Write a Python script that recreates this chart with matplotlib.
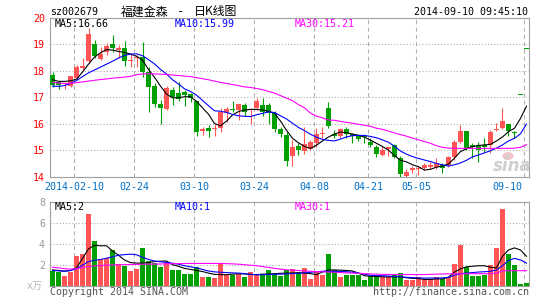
import matplotlib
matplotlib.use('Agg')
import matplotlib.pyplot as plt
from matplotlib.patches import Ellipse

plt.rcParams['font.family'] = ['DejaVu Sans Mono', 'Noto Sans CJK SC']

# daily candles, 2014-01-28 .. 2014-09-10 (80 trading days)
opens = [17.84, 17.59, 17.50, 17.43, 17.72, 18.10, 18.35, 19.01, 18.43, 18.69,
         19.01, 18.79, 18.85, 18.36, 18.48, 18.51, 17.97, 17.43, 16.75, 16.55,
         17.27, 17.17, 17.21, 17.12, 16.87, 15.73, 15.85, 15.79, 15.83, 16.39,
         16.56, 16.52, 16.71, 16.52, 16.58, 16.71, 16.71, 16.39, 15.80, 15.57,
         14.78, 15.16, 14.97, 15.06, 15.28, 15.62, 16.58, 15.61, 15.54, 15.79,
         15.61, 15.54, 15.54, 15.32, 15.13, 14.82, 15.03, 15.20, 14.72, 14.04,
         14.25, 14.29, 14.31, 14.35, 14.38, 14.44, 14.44, 14.73, 15.32, 15.74,
         15.20, 15.20, 15.20, 15.20, 15.76, 15.83, 15.98, 15.70, 17.09, 18.81]
closes = [17.46, 17.46, 17.53, 17.80, 18.16, 18.17, 19.39, 18.57, 18.63, 18.94,
          18.85, 18.85, 18.38, 18.40, 18.53, 17.97, 17.40, 16.75, 16.58, 17.34,
          17.02, 16.92, 17.09, 16.96, 15.70, 15.81, 15.74, 15.81, 16.46, 16.54,
          16.52, 16.75, 16.46, 16.55, 16.87, 16.46, 16.39, 15.80, 15.61, 14.60,
          15.13, 15.01, 15.23, 15.31, 15.61, 15.64, 15.91, 15.54, 15.79, 15.61,
          15.54, 15.42, 15.49, 15.20, 14.84, 15.01, 15.11, 14.76, 14.10, 14.19,
          14.31, 14.31, 14.44, 14.44, 14.50, 14.34, 14.76, 15.32, 15.74, 15.05,
          15.13, 15.00, 15.13, 15.70, 15.81, 16.12, 15.74, 15.66, 17.09, 18.81]
highs = [17.95, 17.62, 17.57, 17.82, 18.22, 18.47, 19.62, 19.16, 18.90, 19.04,
         19.35, 18.98, 19.13, 18.66, 18.60, 19.10, 18.16, 17.53, 16.90, 17.43,
         17.37, 17.59, 17.27, 17.17, 16.87, 15.89, 15.95, 15.98, 16.59, 16.62,
         16.87, 16.75, 16.80, 16.58, 16.96, 16.99, 16.80, 16.49, 15.89, 15.70,
         15.38, 15.26, 15.86, 15.38, 15.85, 15.89, 16.83, 15.76, 15.83, 15.89,
         15.64, 15.61, 15.54, 15.45, 15.20, 15.16, 15.13, 15.24, 14.78, 14.28,
         14.40, 14.40, 14.50, 14.56, 14.69, 14.50, 14.78, 15.38, 15.95, 15.74,
         15.26, 15.32, 15.45, 15.76, 16.04, 16.58, 15.98, 15.72, 17.09, 18.81]
lows = [17.40, 17.31, 17.31, 17.38, 17.68, 18.02, 18.30, 18.47, 18.40, 18.60,
        18.72, 18.47, 18.18, 18.13, 18.13, 17.78, 16.46, 16.62, 15.99, 16.52,
        16.71, 16.87, 16.68, 16.83, 15.54, 15.57, 15.50, 15.54, 15.70, 16.07,
        16.46, 16.14, 16.29, 15.99, 16.52, 16.29, 15.98, 15.70, 15.51, 14.40,
        14.40, 14.82, 14.85, 15.01, 15.13, 15.45, 15.83, 15.45, 15.45, 15.45,
        15.26, 15.36, 15.29, 15.13, 14.76, 14.78, 14.78, 14.70, 14.00, 14.00,
        14.13, 14.07, 14.25, 14.28, 14.28, 14.15, 14.38, 14.63, 15.26, 15.01,
        14.70, 14.57, 14.95, 14.88, 15.72, 15.79, 15.54, 15.45, 17.09, 18.81]

ma5 = [17.66, 17.60, 17.60, 17.62, 17.68, 17.95, 18.25, 18.52, 18.68, 18.80,
       18.78, 18.73, 18.69, 18.63, 18.55, 18.40, 18.05, 17.75, 17.42, 17.12,
       16.98, 16.98, 17.02, 17.02, 16.85, 16.60, 16.36, 16.01, 15.92, 16.10,
       16.33, 16.46, 16.52, 16.54, 16.54, 16.52, 16.47, 16.40, 16.10, 15.75,
       15.45, 15.28, 15.14, 15.07, 15.19, 15.35, 15.50, 15.61, 15.69, 15.66,
       15.61, 15.56, 15.49, 15.38, 15.26, 15.14, 15.00, 14.80, 14.62, 14.56,
       14.45, 14.38, 14.25, 14.28, 14.36, 14.40, 14.48, 14.70, 14.95, 15.05,
       15.14, 15.18, 15.20, 15.22, 15.35, 15.50, 15.70, 15.83, 16.20, 16.66]
ma10 = [17.42, 17.41, 17.44, 17.52, 17.63, 17.78, 17.92, 18.03, 18.14, 18.25,
        18.36, 18.48, 18.58, 18.63, 18.64, 18.57, 18.42, 18.26, 18.05, 17.88,
        17.66, 17.50, 17.32, 17.22, 17.08, 16.88, 16.68, 16.49, 16.47, 16.43,
        16.35, 16.30, 16.28, 16.27, 16.34, 16.39, 16.45, 16.42, 16.30, 16.18,
        16.02, 15.86, 15.74, 15.60, 15.49, 15.41, 15.37, 15.35, 15.42, 15.50,
        15.55, 15.56, 15.56, 15.52, 15.47, 15.39, 15.30, 15.15, 14.97, 14.85,
        14.76, 14.69, 14.63, 14.57, 14.50, 14.45, 14.40, 14.45, 14.52, 14.62,
        14.75, 14.82, 14.90, 14.98, 15.08, 15.20, 15.35, 15.45, 15.62, 15.99]
ma30 = [17.56, 17.54, 17.52, 17.52, 17.55, 17.58, 17.61, 17.64, 17.67, 17.69,
        17.72, 17.74, 17.76, 17.79, 17.85, 17.88, 17.89, 17.88, 17.87, 17.86,
        17.84, 17.82, 17.80, 17.78, 17.74, 17.70, 17.66, 17.61, 17.56, 17.52,
        17.48, 17.44, 17.39, 17.37, 17.33, 17.29, 17.22, 17.16, 17.06, 16.97,
        16.87, 16.72, 16.60, 16.40, 16.29, 16.22, 16.14, 16.13, 16.09, 16.05,
        16.02, 15.98, 15.94, 15.90, 15.83, 15.79, 15.72, 15.65, 15.59, 15.53,
        15.46, 15.39, 15.33, 15.26, 15.17, 15.11, 15.08, 15.07, 15.07, 15.07,
        15.07, 15.07, 15.07, 15.07, 15.07, 15.07, 15.07, 15.08, 15.11, 15.21]

# volume, x 10k
volume = [1.37, 1.27, 0.89, 1.30, 2.79, 3.05, 6.86, 4.22, 2.54, 2.63,
          3.43, 2.10, 1.90, 1.37, 1.62, 3.62, 2.32, 2.16, 1.75, 2.22,
          1.46, 1.46, 1.14, 1.14, 1.78, 0.79, 0.79, 0.70, 2.10, 0.98,
          1.05, 1.14, 0.79, 1.27, 1.05, 0.98, 1.52, 1.14, 0.95, 1.46,
          1.62, 1.27, 1.71, 0.67, 1.43, 1.05, 3.05, 1.52, 0.86, 1.02,
          1.05, 1.05, 0.57, 0.89, 0.89, 0.79, 0.79, 1.05, 1.21, 0.51,
          0.51, 0.79, 0.63, 0.63, 0.83, 0.63, 0.83, 2.03, 3.90, 1.78,
          0.95, 0.89, 1.05, 2.00, 3.59, 7.33, 3.05, 2.00, 0.19, 0.25]
vol_ma5 = [1.50, 1.45, 1.38, 1.45, 1.70, 2.60, 3.50, 3.85, 3.80, 3.80,
           3.30, 2.90, 2.45, 2.20, 2.15, 2.15, 2.20, 2.30, 2.33, 2.35,
           2.00, 1.85, 1.65, 1.55, 1.45, 1.35, 1.20, 1.08, 1.05, 1.05,
           1.10, 1.14, 1.12, 1.08, 1.05, 1.10, 1.11, 1.14, 1.18, 1.20,
           1.22, 1.22, 1.20, 1.15, 1.05, 1.30, 1.50, 1.50, 1.48, 1.45,
           1.40, 1.20, 0.95, 0.90, 0.88, 0.85, 0.83, 0.85, 0.85, 0.75,
           0.70, 0.68, 0.60, 0.60, 0.65, 0.65, 0.80, 1.30, 1.60, 1.80,
           1.85, 1.90, 1.90, 1.75, 1.70, 2.80, 3.40, 3.60, 3.40, 2.80]
vol_ma10 = [1.45, 1.42, 1.38, 1.45, 1.62, 1.95, 2.30, 2.42, 2.50, 2.62,
            2.75, 2.90, 2.96, 3.00, 2.95, 2.70, 2.50, 2.35, 2.28, 2.22,
            2.14, 2.05, 1.90, 1.80, 1.70, 1.55, 1.40, 1.32, 1.28, 1.25,
            1.22, 1.20, 1.15, 1.07, 1.05, 1.05, 1.07, 1.10, 1.10, 1.12,
            1.15, 1.18, 1.22, 1.28, 1.33, 1.37, 1.37, 1.36, 1.36, 1.33,
            1.28, 1.20, 1.10, 1.00, 0.96, 0.95, 0.92, 0.88, 0.85, 0.80,
            0.76, 0.74, 0.73, 0.73, 0.73, 0.74, 0.80, 1.00, 1.15, 1.20,
            1.25, 1.30, 1.33, 1.37, 1.50, 1.90, 2.40, 2.60, 2.45, 2.15]
vol_ma30 = [1.75, 1.70, 1.62, 1.58, 1.62, 1.72, 1.82, 1.88, 1.92, 1.95,
            1.98, 2.00, 2.00, 2.02, 2.03, 2.05, 2.05, 2.06, 2.07, 2.08,
            2.10, 2.10, 2.11, 2.12, 2.12, 2.12, 2.12, 2.12, 2.12, 2.10,
            2.08, 2.05, 2.00, 1.95, 1.90, 1.82, 1.75, 1.65, 1.58, 1.52,
            1.48, 1.44, 1.40, 1.37, 1.35, 1.32, 1.30, 1.28, 1.25, 1.22,
            1.20, 1.18, 1.15, 1.12, 1.10, 1.08, 1.07, 1.06, 1.06, 1.06,
            1.06, 1.06, 1.06, 1.08, 1.10, 1.12, 1.13, 1.14, 1.14, 1.14,
            1.14, 1.14, 1.14, 1.14, 1.20, 1.42, 1.43, 1.43, 1.43, 1.43]

tick_idx = [4, 14, 24, 34, 44, 53, 61, 79]
tick_labels = ['2014-02-10', '02-24', '03-10', '03-24', '04-08', '04-21', '05-05', '09-10']
price_ma_labels = ['MA5:16.66', 'MA10:15.99', 'MA30:15.21']
vol_ma_labels = ['MA5:2', 'MA10:1', 'MA30:1']

RED = '#ff5555'
GREEN = '#00a000'
MA_COLORS = ['black', '#0000ff', '#ff00ff']
FRAME = '#a0a0a0'
W, H = 545, 300


def fx(px):
    return px / W


def fy(py):
    return 1 - py / H


fig = plt.figure(figsize=(5.45, 3.0), dpi=100)
ax = fig.add_axes([fx(50), fy(176.7), fx(479), 158.9 / H])
axv = fig.add_axes([fx(50), fy(285.7), fx(479), 84 / H])

n = len(opens)
x = list(range(n))
colors = [RED if c > o else GREEN for o, c in zip(opens, closes)]
body_lo = [min(o, c) for o, c in zip(opens, closes)]
body_h = [max(abs(c - o), 0.04) for o, c in zip(opens, closes)]

# sina watermark (behind the candles)
fig.text(fx(512), fy(166), 'sina', family='DejaVu Sans', style='italic', weight='bold',
         fontsize=12, color='#cfcfcf', ha='center', va='center', zorder=0)
fig.patches.append(Ellipse((fx(508), fy(156)), fx(11), 8 / H, transform=fig.transFigure,
                           facecolor='#f6c6c6', edgecolor='none', zorder=0))
fig.patches.append(Ellipse((fx(508), fy(156)), fx(4), 4 / H, transform=fig.transFigure,
                           facecolor='#d0d0d0', edgecolor='none', zorder=0))

for a in (ax, axv):
    a.patch.set_alpha(0)
    for i in tick_idx:
        a.axvline(i - 0.42, color='#b0b0b0', lw=0.75, ls=(0, (4, 3)), zorder=1)
    for s in a.spines.values():
        s.set_color(FRAME)
        s.set_linewidth(0.8)
    a.set_xlim(-0.42, 79.42)
    a.set_xticks([])
    a.tick_params(axis='y', length=0, pad=3.6, labelsize=7.2)

# price panel
for yv in range(15, 20):
    ax.axhline(yv, color='#a8a8a8', lw=0.75, ls=(0, (1, 2)), zorder=1)
ax.vlines(x, lows, highs, colors=colors, lw=0.8, zorder=3)
ax.bar(x, body_h, bottom=body_lo, width=0.83, color=colors, linewidth=0, zorder=3)
for ma, col in zip([ma5, ma10, ma30], MA_COLORS):
    ax.plot(x, ma, color=col, lw=0.8, zorder=4)
ax.set_ylim(14, 20)
ax.set_yticks(range(14, 21))
ax.tick_params(axis='y', labelcolor='red')

for i, lab in zip(tick_idx, tick_labels):
    ha = 'right' if i == tick_idx[-1] else 'center'
    xpos = i - 0.7 if ha == 'right' else i - 0.42
    ax.text(xpos, -0.063, lab, transform=ax.get_xaxis_transform(), ha=ha, va='center',
            fontsize=7.2, color='#0070c8')

# volume panel
for yv in (2, 4, 6):
    axv.axhline(yv, color='#a8a8a8', lw=0.75, ls=(0, (1, 2)), zorder=1)
axv.bar(x, volume, width=0.83, color=colors, linewidth=0, zorder=3)
for ma, col in zip([vol_ma5, vol_ma10, vol_ma30], MA_COLORS):
    axv.plot(x, ma, color=col, lw=0.8, zorder=4)
axv.set_ylim(0, 8)
axv.set_yticks([2, 4, 6, 8])
axv.tick_params(axis='y', labelcolor='#999999')

# labels
for lab, px, col in zip(price_ma_labels, [54.5, 174.7, 294.4], MA_COLORS):
    fig.text(fx(px), fy(24), lab, fontsize=7.2, color=col, va='center')
for lab, px, col in zip(vol_ma_labels, [54.3, 175, 295], MA_COLORS):
    fig.text(fx(px), fy(206.5), lab, fontsize=7.2, color=col, va='center')

fig.text(fx(49.7), fy(12), 'sz002679', fontsize=7.2, va='center')
fig.text(fx(121), fy(12), '福建金森', family='Noto Sans CJK SC', fontsize=8.6, va='center')
fig.text(fx(177), fy(12), '-', family='DejaVu Sans Mono', fontsize=8.6, va='center')
fig.text(fx(193.7), fy(12), '日K线图', family='Noto Sans CJK SC', fontsize=8.6, va='center')
fig.text(fx(528.5), fy(12), '2014-09-10 09:45:10', fontsize=7.2, ha='right', va='center')
fig.text(fx(43), fy(286), 'x万', fontsize=7.2, color='#b8b8b8', ha='right', va='center')
fig.text(fx(50), fy(292.3), 'Copyright 2014 SINA.COM', fontsize=7.2, color='#555555', va='center')
fig.text(fx(529.3), fy(292.3), 'http://finance.sina.com.cn', fontsize=7.2, color='#555555',
         ha='right', va='center')

fig.savefig('out.png', dpi=100)
